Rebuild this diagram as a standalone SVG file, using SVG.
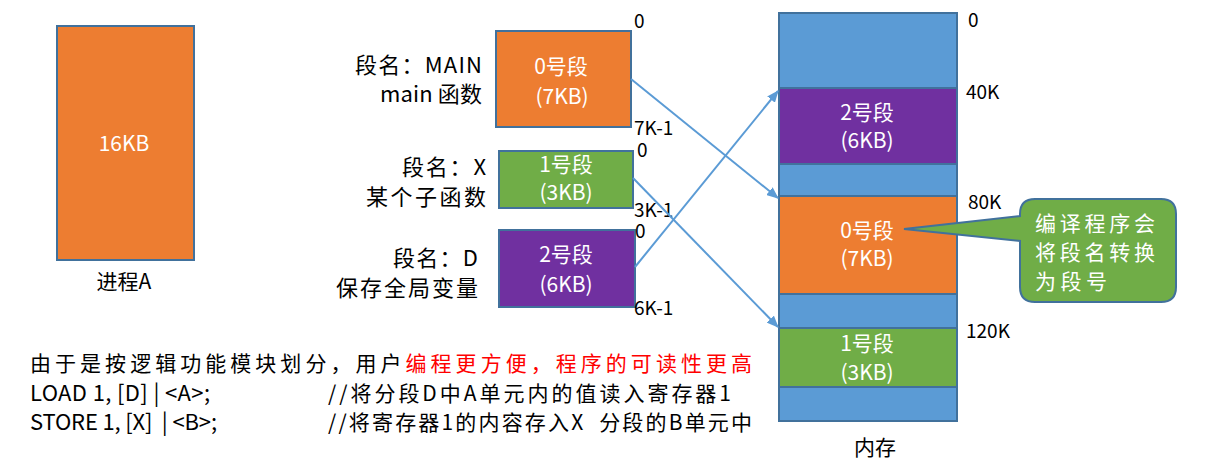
<svg xmlns="http://www.w3.org/2000/svg" width="1206" height="472" viewBox="0 0 1206 472">
<style>
text{font-family:"Noto Sans CJK SC","Noto Sans",sans-serif;fill:#000;white-space:pre}
.w{fill:#fff;font-size:21px;text-anchor:middle}
.lbl{font-size:22px;text-anchor:end}
.num{font-size:19px}
.bx{stroke:#41719C;stroke-width:2}
.or{fill:#ED7D31}.gr{fill:#70AD47}.pu{fill:#7030A0}.bl{fill:#5B9BD5}
.conn{stroke:#5B9BD5;stroke-width:2;fill:none;marker-end:url(#ah)}
.bot{font-size:21px}
.lat{font-size:22px}
.co{font-size:21px;fill:#fff}
</style>
<defs>
<marker id="ah" markerUnits="userSpaceOnUse" markerWidth="12" markerHeight="10" refX="11" refY="5" orient="auto">
<path d="M0,0 L12,5 L0,10 Z" fill="#5B9BD5"/>
</marker>
</defs>
<rect width="1206" height="472" fill="#fff"/>

<g id="processA">
<rect class="bx or" x="57" y="26" width="137" height="234"/>
<text class="w" x="124" y="151">16KB</text>
<text x="124" y="289" font-size="21" text-anchor="middle">进程A</text>
</g>

<g id="seg0">
<rect class="bx or" x="496" y="31" width="135" height="96"/>
<text class="w" x="561" y="74">0号段</text>
<text class="w" x="562" y="104">(7KB)</text>
<text class="lbl" x="482" y="73" textLength="127">段名：MAIN</text>
<text class="lbl" x="482" y="102" textLength="102">main 函数</text>
<text class="num" x="634" y="28">0</text>
<text class="num" x="634" y="135">7K-1</text>
</g>

<g id="seg1">
<rect class="bx gr" x="499" y="151" width="134" height="57"/>
<text class="w" x="566" y="172">1号段</text>
<text class="w" x="566" y="200">(3KB)</text>
<text class="lbl" x="486" y="175" textLength="84">段名：X</text>
<text class="lbl" x="486" y="205" textLength="120">某个子函数</text>
<text class="num" x="637" y="157">0</text>
<text class="num" x="634" y="217">3K-1</text>
</g>

<g id="seg2">
<rect class="bx pu" x="499" y="230" width="136" height="77"/>
<text class="w" x="566" y="262">2号段</text>
<text class="w" x="566" y="292">(6KB)</text>
<text class="lbl" x="478" y="266" textLength="85">段名：D</text>
<text class="lbl" x="478" y="296" textLength="142">保存全局变量</text>
<text class="num" x="635" y="238">0</text>
<text class="num" x="634" y="315">6K-1</text>
</g>

<g id="memory">
<rect class="bx bl" x="779" y="13" width="178" height="408"/>
<rect class="bx pu" x="779" y="88" width="178" height="76"/>
<rect class="bx or" x="779" y="196" width="178" height="98"/>
<rect class="bx gr" x="779" y="328" width="178" height="59"/>
<text class="w" x="867" y="120">2号段</text>
<text class="w" x="867" y="148">(6KB)</text>
<text class="w" x="867" y="238">0号段</text>
<text class="w" x="867" y="266">(7KB)</text>
<text class="w" x="867" y="351">1号段</text>
<text class="w" x="867" y="380">(3KB)</text>
<text class="num" x="968" y="27">0</text>
<text class="num" x="966" y="99">40K</text>
<text class="num" x="968" y="209">80K</text>
<text class="num" x="966" y="338">120K</text>
<text x="875" y="455" font-size="21" text-anchor="middle">内存</text>
</g>

<g id="callout">
<path d="M1035,199 H1161 Q1176,199 1176,214 V287 Q1176,302 1161,302 H1035 Q1020,302 1020,287 V241 L904,229 L1020,216 V214 Q1020,199 1035,199 Z" fill="#70AD47" stroke="#41719C" stroke-width="2"/>
<text class="co" x="1035" y="231" textLength="120">编译程序会</text>
<text class="co" x="1035" y="260" textLength="120">将段名转换</text>
<text class="co" x="1035" y="289" textLength="72">为段号</text>
</g>

<g id="connectors">
<line class="conn" x1="631" y1="79" x2="778" y2="198"/>
<line class="conn" x1="633" y1="178" x2="778" y2="327"/>
<line class="conn" x1="635" y1="267" x2="778" y2="91"/>
</g>

<g id="notes">
<text class="bot" x="30" y="371" textLength="722">由于是按逻辑功能模块划分，用户<tspan style="fill:#FF0000">编程更方便，程序的可读性更高</tspan></text>
<text class="lat" x="30" y="401" textLength="180">LOAD 1, [D] | &lt;A&gt;;</text>
<text class="bot" x="328" y="401" textLength="403">//将分段D中A单元内的值读入寄存器1</text>
<text class="lat" x="30" y="430" textLength="187">STORE 1, [X]  | &lt;B&gt;;</text>
<text class="bot" x="328" y="430" textLength="424">//将寄存器1的内容存入X  分段的B单元中</text>
</g>
</svg>
